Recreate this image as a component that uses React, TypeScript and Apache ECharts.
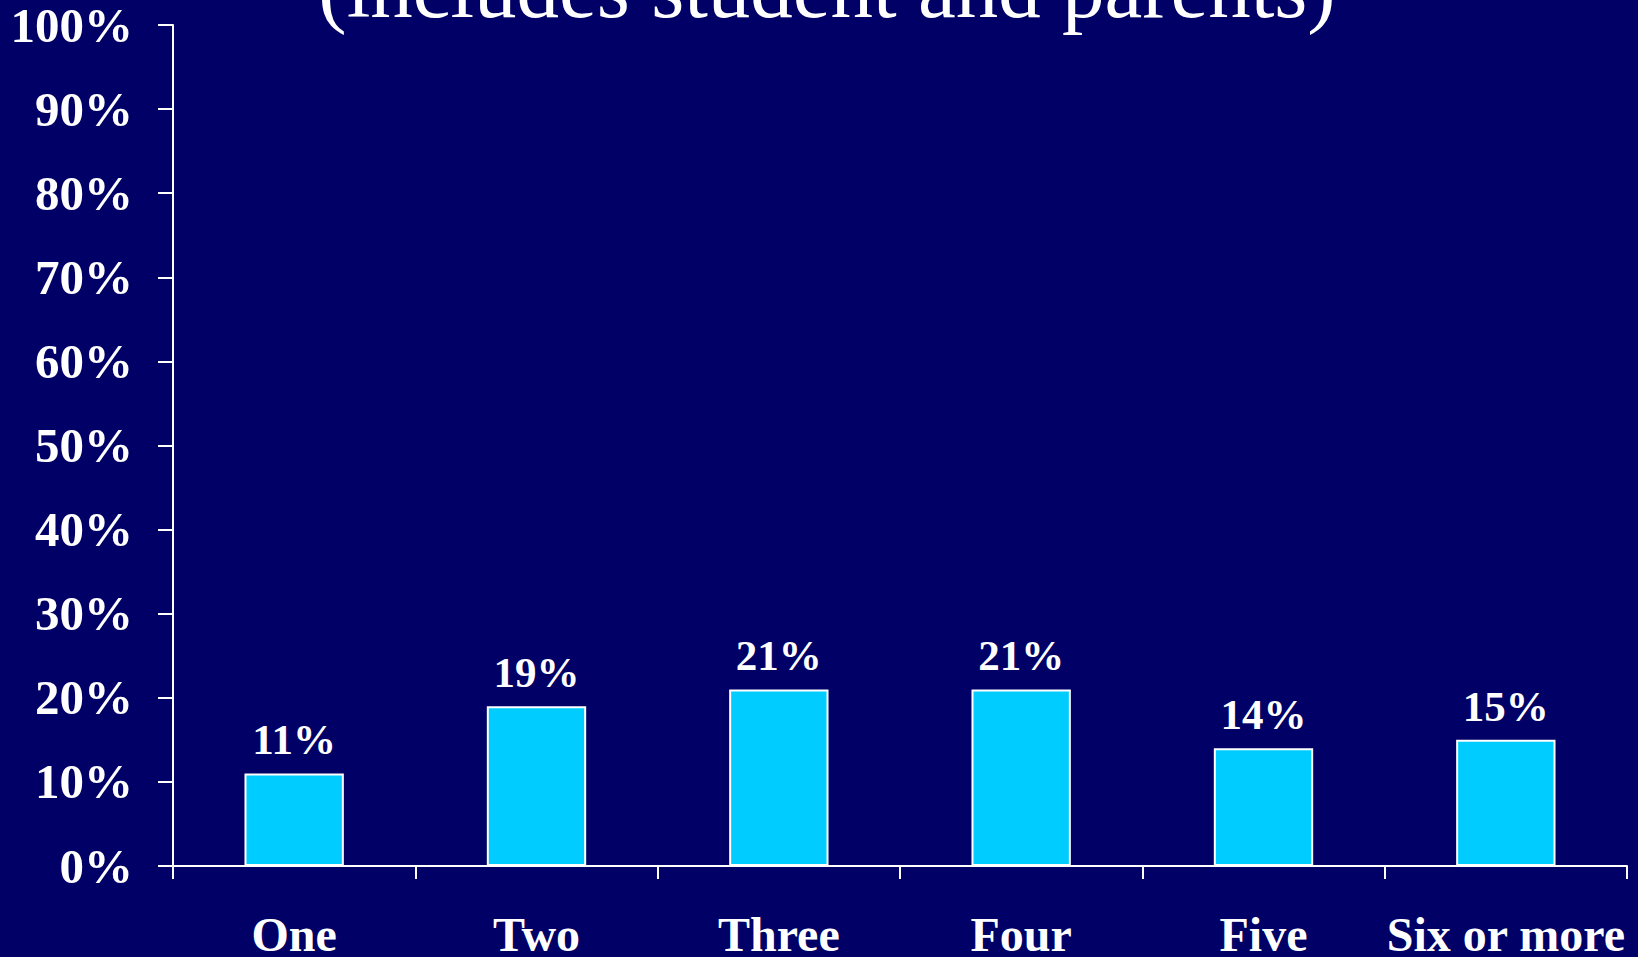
import React, { useEffect, useRef } from "react";
import * as echarts from "echarts";

const categories = ["One", "Two", "Three", "Four", "Five", "Six or more"];
const values = [11, 19, 21, 21, 14, 15];
const titleText = "(includes student and parents)";

const FONT = "'Liberation Serif', 'Times New Roman', serif";

export default function App() {
  const ref = useRef<HTMLDivElement>(null);
  useEffect(() => {
    if (!ref.current) return;
    const chart = echarts.init(ref.current, undefined, { renderer: "svg" });
    chart.setOption({
      animation: false,
      backgroundColor: "#000066",
      grid: { left: 173, right: 11, top: 25, bottom: 91, containLabel: false, outerBoundsMode: "none" },
      graphic: [
        {
          type: "text",
          x: 827,
          top: -55,
          style: {
            text: titleText,
            fill: "#ffffff",
            font: `normal 85px ${FONT}`,
            textAlign: "center",
          },
        },
      ],
      xAxis: {
        type: "category",
        data: categories,
        boundaryGap: true,
        axisLine: { lineStyle: { color: "#ffffff", width: 2 } },
        axisTick: { show: true, length: 13, lineStyle: { color: "#ffffff", width: 2 }, alignWithLabel: false },
        axisLabel: {
          color: "#ffffff",
          fontSize: 48,
          fontWeight: "bold",
          fontFamily: FONT,
          margin: 44,
          interval: 0,
        },
      },
      yAxis: {
        type: "value",
        min: 0,
        max: 100,
        interval: 10,
        splitLine: { show: false },
        axisLine: { show: true, lineStyle: { color: "#ffffff", width: 2 } },
        axisTick: { show: true, length: 15, lineStyle: { color: "#ffffff", width: 2 } },
        axisLabel: {
          color: "#ffffff",
          fontSize: 49,
          fontWeight: "bold",
          fontFamily: FONT,
          margin: 40,
          formatter: "{value}%",
        },
      },
      series: [
        {
          type: "bar",
          data: values,
          barWidth: "41%",
          itemStyle: { color: "#00CCFF", borderColor: "#ffffff", borderWidth: 2 },
          label: {
            show: true,
            position: "top",
            distance: 12,
            color: "#ffffff",
            fontSize: 43,
            fontWeight: "bold",
            fontFamily: FONT,
            formatter: "{c}%",
          },
        },
      ],
    });
    return () => chart.dispose();
  }, []);
  return (
    <div
      ref={ref}
      style={{ position: "fixed", left: 0, top: 0, width: 1638, height: 957, background: "#000066" }}
    />
  );
}
